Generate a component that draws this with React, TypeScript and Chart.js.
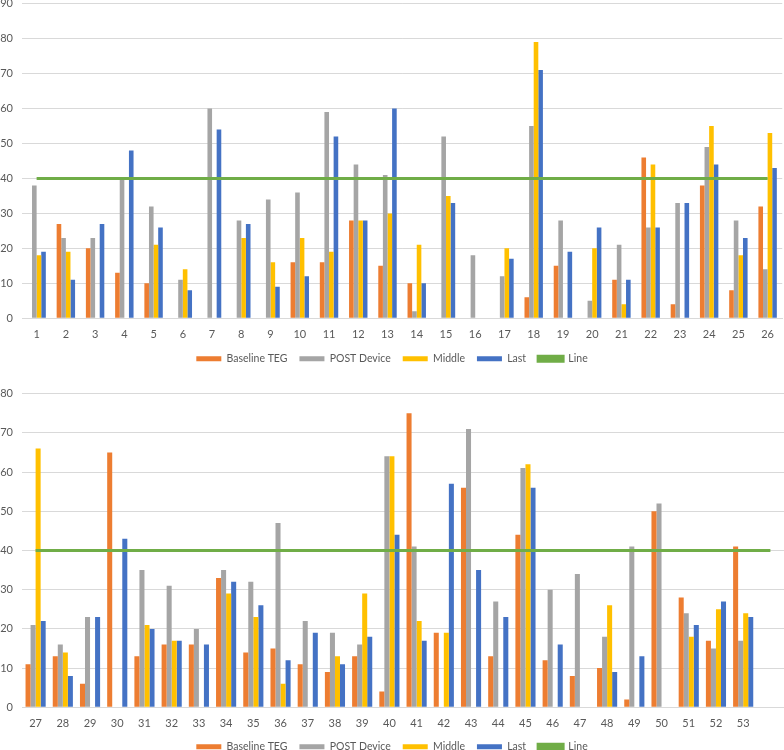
import React, { useEffect, useRef } from 'react';
import { Chart, registerables } from 'chart.js';

Chart.register(...registerables);

const categoriesTop = ['1','2','3','4','5','6','7','8','9','10','11','12','13','14','15','16','17','18','19','20','21','22','23','24','25','26'];
const baselineTop = [null,27,20,13,10,null,null,null,null,16,16,28,15,10,null,null,null,6,15,null,11,46,4,38,8,32];
const postTop = [38,23,23,40,32,11,60,28,34,36,59,44,41,2,52,18,12,55,28,5,21,26,33,49,28,14];
const middleTop = [18,19,null,null,21,14,null,23,16,23,19,28,30,21,35,null,20,79,null,20,4,44,null,55,18,53];
const lastTop = [19,11,27,48,26,8,54,27,9,12,52,28,60,10,33,null,17,71,19,26,11,26,33,44,23,43];
const lineTop = [40,40,40,40,40,40,40,40,40,40,40,40,40,40,40,40,40,40,40,40,40,40,40,40,40,40];

const categoriesBottom = ['27','28','29','30','31','32','33','34','35','36','37','38','39','40','41','42','43','44','45','46','47','48','49','50','51','52','53',''];
const baselineBottom = [11,13,6,65,13,16,16,33,14,15,11,9,13,4,75,19,56,13,44,12,8,10,2,50,28,17,41,null];
const postBottom = [21,16,23,null,35,31,20,35,32,47,22,19,16,64,41,null,71,27,61,30,34,18,41,52,24,15,17,null];
const middleBottom = [66,14,null,null,21,17,null,29,23,6,null,13,29,64,22,19,null,null,62,null,null,26,null,null,18,25,24,null];
const lastBottom = [22,8,23,43,20,17,16,32,26,12,19,11,18,44,17,57,35,23,56,16,null,9,13,null,21,27,23,null];
const lineBottom = [40,40,40,40,40,40,40,40,40,40,40,40,40,40,40,40,40,40,40,40,40,40,40,40,40,40,40,40];

const seriesNames = ['Baseline TEG', 'POST Device', 'Middle', 'Last', 'Line'];
const colors = ['#ED7D31', '#A5A5A5', '#FFC000', '#4472C4', '#70AD47'];

function makeLegendLift(lift: number) {
  return {
    id: 'legendLift',
    afterLayout(chart: any) {
      if (chart.legend) {
        chart.legend.top -= lift;
        chart.legend.bottom -= lift;
      }
    },
  };
}

function makeConfig(labels: string[], bars: (number | null)[][], line: number[], yMax: number, catPct: number, lift: number): any {
  const datasets: any[] = bars.map((d, i) => ({
    type: 'bar',
    label: seriesNames[i],
    data: d,
    backgroundColor: colors[i],
    borderWidth: 0,
    barPercentage: 1,
    categoryPercentage: catPct,
    order: 1,
  }));
  datasets.push({
    type: 'line',
    label: seriesNames[4],
    data: line,
    borderColor: colors[4],
    backgroundColor: colors[4],
    borderWidth: 3,
    pointRadius: 0,
    fill: false,
    order: 0,
  });
  return {
    type: 'bar',
    data: { labels, datasets },
    plugins: [makeLegendLift(lift)],
    options: {
      animation: false,
      responsive: false,
      maintainAspectRatio: false,
      layout: { padding: { left: 0, right: 0, top: 0, bottom: 0 } },
      plugins: {
        tooltip: { enabled: false },
        legend: {
          position: 'bottom',
          labels: {
            boxWidth: 25,
            boxHeight: 5,
            padding: 12,
            color: '#595959',
            font: { family: 'Lato', size: 10.5 },
            sort: (a: any, b: any) => a.datasetIndex - b.datasetIndex,
          },
        },
      },
      scales: {
        x: {
          grid: { display: false, drawTicks: false },
          border: { display: true, color: '#D9D9D9', width: 1 },
          ticks: { color: '#595959', font: { family: 'Lato', size: 11 }, padding: 10, maxRotation: 0, autoSkip: false },
        },
        y: {
          min: 0,
          max: yMax,
          grid: { color: '#D9D9D9', drawTicks: false, lineWidth: 1 },
          border: { display: false },
          ticks: { stepSize: 10, color: '#595959', font: { family: 'Lato', size: 11 }, padding: 9 },
          afterFit: (scale: any) => { scale.width = 22; },
        },
      },
    },
  };
}

function ChartCanvas(props: { config: any; top: number; height: number }) {
  const ref = useRef<HTMLCanvasElement | null>(null);
  useEffect(() => {
    if (!ref.current) return;
    const chart = new Chart(ref.current, props.config);
    return () => chart.destroy();
  }, []);
  return (
    <div style={{ position: 'absolute', left: 0, top: props.top, width: 784, height: props.height }}>
      <canvas ref={ref} width={784} height={props.height} style={{ width: 784, height: props.height, display: 'block' }} />
    </div>
  );
}

export default function App() {
  const topCfg = makeConfig(categoriesTop, [baselineTop, postTop, middleTop, lastTop], lineTop, 90, 0.63, 10);
  const botCfg = makeConfig(categoriesBottom, [baselineBottom, postBottom, middleBottom, lastBottom], lineBottom, 80, 0.74, 11);
  return (
    <div style={{ position: 'fixed', left: 0, top: 0, width: 784, height: 750, background: '#fff', overflow: 'hidden' }}>
      <ChartCanvas config={topCfg} top={-12} height={396} />
      <ChartCanvas config={botCfg} top={378} height={395} />
    </div>
  );
}
